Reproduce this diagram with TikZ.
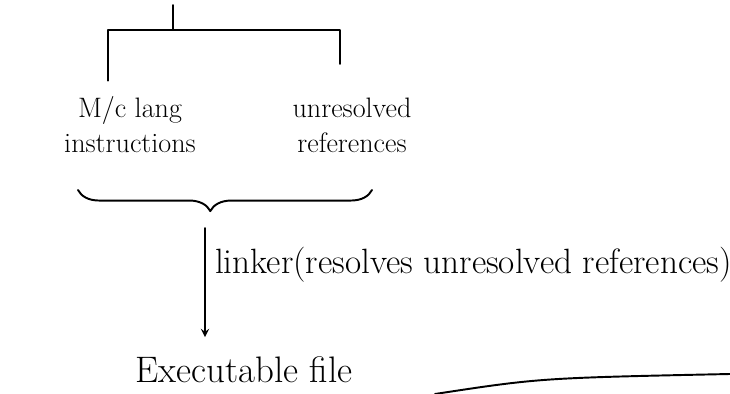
\documentclass[tikz,border=0pt]{standalone}
\usepackage{tikz}
\usetikzlibrary{decorations.pathreplacing,positioning}

\tikzset{
	note/.style={font=\fontsize{16}{20}\selectfont,inner sep=1pt},
	pen/.style={line width=1.1pt,line cap=round,line join=round}
}

\begin{document}
\begin{tikzpicture}[x=0.02cm,y=-0.02cm]
	\useasboundingbox (0,0) rectangle (730,394);
	% the two parts of the object file
	\node[note,align=center] (mc) at (130,125) {M/c lang\\instructions};
	\node[note,align=center] (unres) at (352,125) {unresolved\\references};
	\coordinate (top) at (173,5);
	\coordinate (bar) at (173,30);
	\draw[pen] (top)--(bar); % tige du haut
	\draw[pen] ([yshift=8pt]mc.north -| 108,0) |- (bar) -| ([yshift=18pt]unres.north -| 340,0); % barre horizontale
	% accolade sous les deux parties
	\draw[pen,decorate,decoration={brace,mirror,amplitude=12pt,aspect=0.45}] (78,190)--(372,190);
	\coordinate (tip) at (205,228);
	\node[note,font=\fontsize{21}{25}\selectfont] (exe) at (244,370) {Executable file};
	\draw[pen,->,>=stealth] (tip)--([yshift=10pt]tip |- exe.north);
	\node[note,anchor=west,font=\fontsize{20}{24}\selectfont] (linker) at (213,265) {linker(resolves unresolved references)};
	\draw[pen] (435,394) .. controls (540,378) .. (730,374); % trait en bas
\end{tikzpicture}
\end{document}
